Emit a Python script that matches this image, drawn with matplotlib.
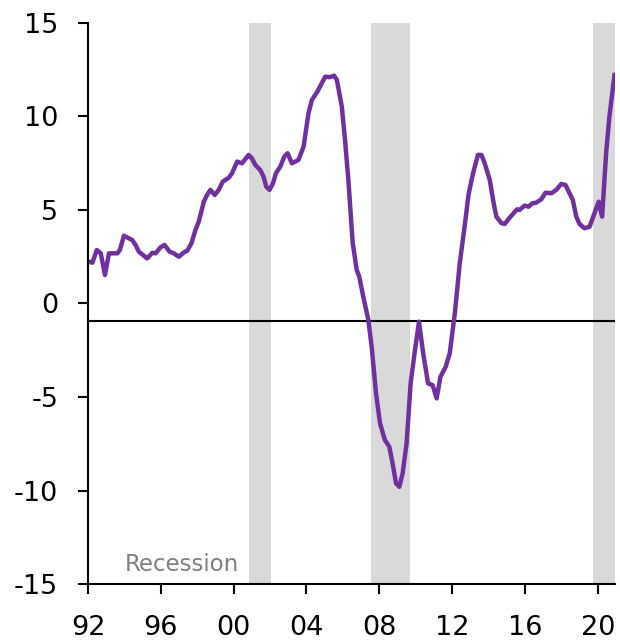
import numpy as np
import matplotlib.pyplot as plt

# series (decimal year, value)
years = [1992.05, 1992.24, 1992.48, 1992.70, 1992.93, 1993.15, 1993.61, 1993.75, 1993.97,
         1994.43, 1994.61, 1994.79, 1995.25, 1995.53, 1995.71, 1995.98, 1996.20, 1996.48,
         1996.71, 1996.99, 1997.26, 1997.45, 1997.68, 1997.90, 1998.08, 1998.36, 1998.54,
         1998.72, 1998.96, 1999.18, 1999.40, 1999.73, 1999.91, 2000.19, 2000.46, 2000.82,
         2001.00, 2001.19, 2001.46, 2001.64, 2001.79, 2001.97, 2002.16, 2002.32, 2002.56,
         2002.78, 2002.96, 2003.20, 2003.38, 2003.56, 2003.84, 2004.11, 2004.30, 2004.60,
         2004.84, 2005.03, 2005.26, 2005.52, 2005.67, 2005.94, 2006.12, 2006.30, 2006.54,
         2006.76, 2006.90, 2007.12, 2007.40, 2007.58, 2007.82, 2008.04, 2008.31, 2008.55,
         2008.73, 2008.92, 2009.10, 2009.28, 2009.50, 2009.72, 2009.96, 2010.18, 2010.41,
         2010.68, 2010.93, 2011.15, 2011.36, 2011.65, 2011.87, 2012.15, 2012.42, 2012.70,
         2012.90, 2013.15, 2013.42, 2013.61, 2013.79, 2014.07, 2014.25, 2014.43, 2014.71,
         2014.89, 2015.13, 2015.34, 2015.56, 2015.71, 2015.98, 2016.20, 2016.40, 2016.62,
         2016.90, 2017.13, 2017.45, 2017.72, 2018.00, 2018.23, 2018.45, 2018.63, 2018.82,
         2019.00, 2019.27, 2019.55, 2019.82, 2020.05, 2020.24, 2020.46, 2020.64, 2020.92]
values = [2.22, 2.17, 2.85, 2.67, 1.51, 2.67, 2.67, 2.85, 3.61,
          3.38, 3.12, 2.76, 2.40, 2.70, 2.67, 2.99, 3.12, 2.76,
          2.67, 2.49, 2.72, 2.81, 3.21, 3.92, 4.36, 5.43, 5.79,
          6.06, 5.79, 6.06, 6.50, 6.71, 6.95, 7.57, 7.48, 7.93,
          7.75, 7.39, 7.12, 6.77, 6.23, 6.06, 6.41, 6.95, 7.30,
          7.84, 8.02, 7.48, 7.57, 7.66, 8.37, 10.15, 10.87, 11.31,
          11.76, 12.11, 12.08, 12.16, 11.93, 10.51, 8.70, 6.60, 3.21,
          1.78, 1.42, 0.35, -0.89, -2.32, -4.81, -6.41, -7.31, -7.66,
          -8.55, -9.62, -9.80, -9.09, -7.48, -4.28, -2.50, -0.98, -2.67,
          -4.28, -4.37, -5.08, -3.92, -3.39, -2.67, -0.53, 2.14, 4.20,
          5.80, 6.95, 7.93, 7.93, 7.48, 6.59, 5.52, 4.63, 4.28,
          4.24, 4.54, 4.77, 5.02, 4.99, 5.22, 5.16, 5.34, 5.38,
          5.56, 5.91, 5.88, 6.06, 6.38, 6.32, 5.88, 5.52, 4.63,
          4.24, 4.01, 4.09, 4.81, 5.43, 4.63, 8.02, 9.97, 12.20]

recessions = [(2000.82, 2002.05), (2007.55, 2009.68), (2019.73, 2021.1)]
ref_level = -0.95

xticks = [1992, 1996, 2000, 2004, 2008, 2012, 2016, 2020]
xlabels = ['92', '96', '00', '04', '08', '12', '16', '20']
yticks = [-15, -10, -5, 0, 5, 10, 15]
ylabels = ['-15', '-10', '-5', '0', '5', '10', '15']

fig = plt.figure(figsize=(6.2, 6.44), dpi=100)
ax = fig.add_axes([0.142, 0.093, 0.85, 0.872])

for start, end in recessions:
    ax.axvspan(start, end, color='#d9d9d9', lw=0, zorder=0)

ax.axhline(ref_level, color='black', lw=1.5, zorder=1)
ax.plot(years, values, color='#7030a0', lw=3.2, zorder=2, solid_joinstyle='round')

ax.text(1994.0, -13.95, 'Recession', color='#808080', fontsize=16.5, va='center', ha='left')

ax.set_xlim(1992, 2020.95)
ax.set_ylim(-15, 15)
ax.set_xticks(xticks)
ax.set_xticklabels(xlabels)
ax.set_yticks(yticks)
ax.set_yticklabels(ylabels)

for side in ['top', 'right']:
    ax.spines[side].set_visible(False)
for side in ['left', 'bottom']:
    ax.spines[side].set_linewidth(1.5)
    ax.spines[side].set_clip_on(False)

ax.tick_params(axis='both', direction='out', length=7.5, width=1.5, labelsize=19.5)
ax.tick_params(axis='y', pad=14)
ax.tick_params(axis='x', pad=15)

fig.savefig('out.png', dpi=100)
